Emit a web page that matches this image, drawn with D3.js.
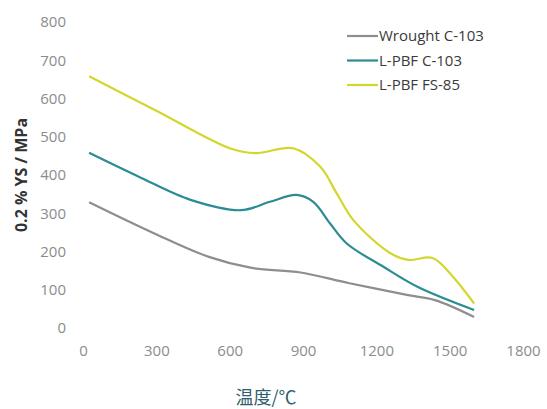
<!DOCTYPE html>
<html>
<head>
<meta charset="utf-8">
<script src="https://cdn.jsdelivr.net/npm/d3@7"></script>
<style>
  body { margin: 0; background: #fff; }
  text { font-family: "Open Sans", "DejaVu Sans", sans-serif; }
</style>
</head>
<body>
<div id="chart"></div>
<script>
// data (temperature in °C, 0.2% yield strength in MPa)
const seriesNames = ["Wrought C-103", "L-PBF C-103", "L-PBF FS-85"];
const seriesColors = ["#8e8e8e", "#2b8c92", "#d3d72c"];

const wroughtTemp = [25, 290, 515, 690, 890, 1090, 1330, 1440, 1600];
const wroughtYS   = [329, 248, 186, 157, 145, 117, 86, 73, 29];

const pbfC103Temp = [25, 230, 440, 646, 765, 874, 942, 1010, 1079, 1229, 1370, 1600];
const pbfC103YS   = [458, 395, 335, 308, 330, 348, 330, 274, 221, 160, 107, 47];

const fs85Temp = [25, 300, 600, 705, 860, 970, 1038, 1106, 1256, 1330, 1430, 1515, 1600];
const fs85YS   = [658, 568, 470, 457, 470, 422, 352, 282, 196, 178, 183, 133, 64];

const xTicks = [0, 300, 600, 900, 1200, 1500, 1800];
const yTicks = [0, 100, 200, 300, 400, 500, 600, 700, 800];

const width = 547, height = 409;

const svg = d3.select("#chart")
    .append("svg")
    .attr("width", width)
    .attr("height", height);

const x = d3.scaleLinear().domain([0, 1800]).range([83, 523]);
const y = d3.scaleLinear().domain([0, 800]).range([328, 22]);

// y tick labels (no axis line)
const yAxis = svg.append("g")
    .attr("transform", "translate(66,0)")
    .call(d3.axisLeft(y).tickValues(yTicks).tickFormat(d3.format("d")).tickSize(0).tickPadding(0));
yAxis.select(".domain").remove();
yAxis.selectAll("text")
    .attr("fill", "#8c8c8c")
    .style("font-size", "15px");

// x tick labels
const xAxis = svg.append("g")
    .attr("transform", "translate(0,345)")
    .call(d3.axisBottom(x).tickValues(xTicks).tickFormat(d3.format("d")).tickSize(0).tickPadding(0));
xAxis.select(".domain").remove();
xAxis.selectAll("text")
    .attr("fill", "#8c8c8c")
    .style("font-size", "15px");

// axis titles
svg.append("text")
    .attr("transform", "translate(27,175) rotate(-90)")
    .attr("text-anchor", "middle")
    .attr("fill", "#333")
    .style("font-size", "16px")
    .style("font-weight", "bold")
    .text("0.2 % YS / MPa");

svg.append("text")
    .attr("x", 266)
    .attr("y", 404)
    .attr("text-anchor", "middle")
    .attr("fill", "#2f5e6e")
    .style("font-family", "'Noto Sans CJK SC', sans-serif")
    .style("font-size", "18px")
    .text("温度/℃");

// lines
const series = [
    {name: seriesNames[0], color: seriesColors[0], pts: d3.zip(wroughtTemp, wroughtYS)},
    {name: seriesNames[1], color: seriesColors[1], pts: d3.zip(pbfC103Temp, pbfC103YS)},
    {name: seriesNames[2], color: seriesColors[2], pts: d3.zip(fs85Temp, fs85YS)}
];

const line = d3.line()
    .x(d => x(d[0]))
    .y(d => y(d[1]))
    .curve(d3.curveCatmullRom.alpha(0.5));

svg.selectAll("path.series")
    .data(series)
    .enter()
    .append("path")
    .attr("class", "series")
    .attr("d", d => line(d.pts))
    .attr("fill", "none")
    .attr("stroke", d => d.color)
    .attr("stroke-width", 2.2);

// legend
const legend = svg.selectAll("g.legend")
    .data(series)
    .enter()
    .append("g")
    .attr("class", "legend")
    .attr("transform", (d, i) => `translate(347,${36 + i * 24.5})`);

legend.append("line")
    .attr("x1", 0).attr("x2", 31)
    .attr("stroke", d => d.color)
    .attr("stroke-width", 2.2);

legend.append("text")
    .attr("x", 32)
    .attr("dy", "0.36em")
    .attr("fill", "#3a3a3a")
    .style("font-size", "15px")
    .text(d => d.name);
</script>
</body>
</html>
